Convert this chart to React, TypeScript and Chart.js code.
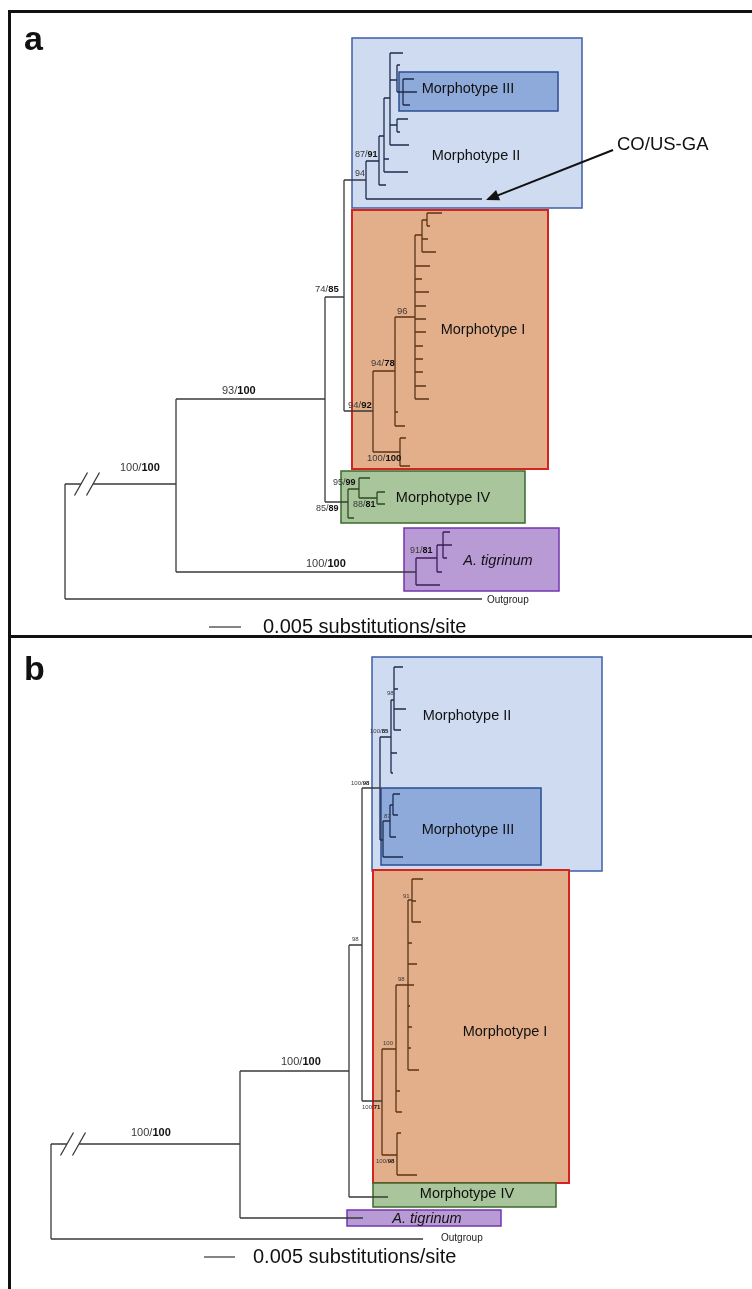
import { useEffect, useRef } from "react";
import { Chart, registerables } from "chart.js";

Chart.register(...registerables);

const PAGE_W = 752;
const PAGE_H = 1289;
const FONT = '"Liberation Sans", Arial, Helvetica, sans-serif';

// Tree nodes: [id, parent, depth, row, clade]
type TNode = [string, string | null, number, number, string];

// ---------------- Panel a ----------------
const A_BACKBONE: TNode[] = [
  ["root", null, 65, 540, "k"],
  ["A1", "root", 176, 484, "k"],
  ["out", "root", 482, 599, "k"],
  ["X", "A1", 325, 399, "k"],
  ["Y", "X", 344, 297, "k"],
];
const A_MORPH_II: TNode[] = [
  ["Z", "Y", 366, 180, "b"],
  ["CO", "Z", 482, 199, "b"],
  ["W", "Z", 379, 161, "b"],
  ["W1", "W", 386, 185, "b"],
  ["V", "W", 384, 136, "b"],
  ["V1", "V", 389, 159, "b"],
  ["V2", "V", 408, 172, "b"],
  ["U", "V", 390, 98, "b"],
  ["U1", "U", 403, 53, "b"],
  ["T", "U", 397, 80, "b"],
  ["T1", "T", 400, 65, "b"],
  ["R3", "T", 403, 92, "b"],
  ["R31", "R3", 414, 79, "b"],
  ["R32", "R3", 417, 92, "b"],
  ["R33", "R3", 410, 105, "b"],
  ["S", "U", 397, 125, "b"],
  ["S1", "S", 408, 119, "b"],
  ["S2", "S", 400, 132, "b"],
  ["U2", "U", 409, 145, "b"],
];
const A_MORPH_I: TNode[] = [
  ["I0", "Y", 373, 411, "o"],
  ["I78", "I0", 395, 371, "o"],
  ["I100", "I0", 400, 452, "o"],
  ["I100a", "I100", 406, 438, "o"],
  ["I100b", "I100", 410, 466, "o"],
  ["I78a", "I78", 398, 412, "o"],
  ["I78b", "I78", 405, 426, "o"],
  ["P", "I78", 415, 317, "o"],
  ["Q", "P", 422, 235, "o"],
  ["O", "Q", 427, 220, "o"],
  ["O1", "O", 442, 213, "o"],
  ["O2", "O", 430, 226, "o"],
  ["Q1", "Q", 428, 239, "o"],
  ["Q2", "Q", 436, 252, "o"],
  ["P1", "P", 430, 266, "o"],
  ["P2", "P", 422, 279, "o"],
  ["P3", "P", 429, 292, "o"],
  ["P4", "P", 426, 306, "o"],
  ["P5", "P", 426, 319, "o"],
  ["P6", "P", 426, 332, "o"],
  ["P7", "P", 423, 346, "o"],
  ["P8", "P", 423, 359, "o"],
  ["P9", "P", 423, 372, "o"],
  ["P10", "P", 426, 386, "o"],
  ["P11", "P", 429, 399, "o"],
];
const A_MORPH_IV: TNode[] = [
  ["IV", "X", 348, 502, "g"],
  ["IV95", "IV", 359, 489, "g"],
  ["IVt", "IV", 354, 518, "g"],
  ["IV95a", "IV95", 370, 478, "g"],
  ["IV88", "IV95", 377, 498, "g"],
  ["IV88a", "IV88", 385, 492, "g"],
  ["IV88b", "IV88", 385, 504, "g"],
];
const A_TIGRINUM: TNode[] = [
  ["TG", "A1", 416, 572, "p"],
  ["TGB", "TG", 437, 558, "p"],
  ["TGt", "TG", 440, 585, "p"],
  ["TGC", "TGB", 443, 545, "p"],
  ["TGBt", "TGB", 442, 572, "p"],
  ["TGC1", "TGC", 450, 532, "p"],
  ["TGC2", "TGC", 452, 545, "p"],
  ["TGC3", "TGC", 447, 558, "p"],
];
const A_BREAK: [string, number, number] = ["A1", 81, 93];

// ---------------- Panel b ----------------
const B_BACKBONE: TNode[] = [
  ["root", null, 51, 1190, "k"],
  ["B1", "root", 240, 1144, "k"],
  ["out", "root", 423, 1239, "k"],
  ["B2", "B1", 349, 1071, "k"],
  ["TIG", "B1", 363, 1218, "p"],
  ["IV", "B2", 388, 1197, "g"],
  ["B3", "B2", 362, 945, "k"],
];
const B_MORPH_II_III: TNode[] = [
  ["N", "B3", 380, 788, "b"],
  ["M", "N", 391, 737, "b"],
  ["L", "M", 394, 700, "b"],
  ["L1", "L", 403, 667, "b"],
  ["L2", "L", 398, 689, "b"],
  ["L3", "L", 406, 709, "b"],
  ["L4", "L", 401, 730, "b"],
  ["M1", "M", 397, 753, "b"],
  ["M2", "M", 393, 773, "b"],
  ["J", "N", 383, 840, "b"],
  ["J87", "J", 390, 821, "b"],
  ["Jt", "J", 403, 857, "b"],
  ["NI", "J87", 393, 805, "b"],
  ["NI1", "NI", 400, 794, "b"],
  ["NI2", "NI", 398, 815, "b"],
  ["J87t", "J87", 396, 837, "b"],
];
const B_MORPH_I: TNode[] = [
  ["MI", "B3", 382, 1101, "o"],
  ["C100", "MI", 396, 1049, "o"],
  ["C98b", "MI", 397, 1155, "o"],
  ["C98b1", "C98b", 401, 1133, "o"],
  ["C98b2", "C98b", 417, 1175, "o"],
  ["C100t1", "C100", 400, 1091, "o"],
  ["C100t2", "C100", 402, 1112, "o"],
  ["C98", "C100", 408, 985, "o"],
  ["C91", "C98", 412, 900, "o"],
  ["C91a", "C91", 423, 879, "o"],
  ["C91b", "C91", 416, 901, "o"],
  ["C91c", "C91", 421, 922, "o"],
  ["C98t1", "C98", 412, 943, "o"],
  ["C98t2", "C98", 417, 964, "o"],
  ["C98t3", "C98", 414, 985, "o"],
  ["C98t4", "C98", 410, 1006, "o"],
  ["C98t5", "C98", 412, 1027, "o"],
  ["C98t6", "C98", 411, 1048, "o"],
  ["C98t7", "C98", 419, 1070, "o"],
];
const B_BREAK: [string, number, number] = ["B1", 67, 79];

// Support labels: [text, left, row, size]
type Lbl = [string, number, number, number];
const A_SUPPORT: Lbl[] = [
  ["100/100", 120, 468, 11],
  ["93/100", 222, 391, 11],
  ["100/100", 306, 564, 11],
  ["74/85", 315, 289, 9.5],
  ["94/92", 348, 405, 9.5],
  ["94/78", 371, 363, 9.5],
  ["96", 397, 311, 9.5],
  ["100/100", 367, 458, 9.5],
  ["87/91", 355, 155, 9],
  ["94", 355, 174, 9],
  ["95/99", 333, 483, 9],
  ["88/81", 353, 505, 9],
  ["85/89", 316, 509, 9],
  ["91/81", 410, 551, 9],
];
const B_SUPPORT: Lbl[] = [
  ["100/100", 131, 1133, 11],
  ["100/100", 281, 1062, 11],
  ["98", 352, 939, 6],
  ["100/98", 351, 783, 6],
  ["100/85", 370, 731, 6],
  ["98", 387, 693, 6],
  ["87", 384, 816, 6],
  ["91", 403, 896, 6],
  ["98", 398, 979, 6],
  ["100", 383, 1043, 6],
  ["100/71", 362, 1107, 6],
  ["100/98", 376, 1161, 6],
];

// Clade boxes: [clade, x0, y0, x1, y1]
type Box = [string, number, number, number, number];
const A_BOXES: Box[] = [
  ["II", 352, 38, 582, 208],
  ["III", 399, 72, 558, 111],
  ["I", 352, 210, 548, 469],
  ["IV", 341, 471, 525, 523],
  ["tig", 404, 528, 559, 591],
];
const B_BOXES: Box[] = [
  ["II", 372, 657, 602, 871],
  ["III", 381, 788, 541, 865],
  ["I", 373, 870, 569, 1183],
  ["IV", 373, 1183, 556, 1207],
  ["tig", 347, 1210, 501, 1226],
];

// Clade titles: [text, centerX, row]
type Title = [string, number, number];
const A_TITLES: Title[] = [
  ["Morphotype III", 468, 89],
  ["Morphotype II", 476, 156],
  ["Morphotype I", 483, 330],
  ["Morphotype IV", 443, 498],
  ["A. tigrinum", 498, 561],
];
const B_TITLES: Title[] = [
  ["Morphotype II", 467, 716],
  ["Morphotype III", 468, 830],
  ["Morphotype I", 505, 1032],
  ["Morphotype IV", 467, 1194],
  ["A. tigrinum", 427, 1219],
];

// Scale bars: [x0, x1, row, textLeft]
const A_SCALE: [number, number, number, number] = [209, 241, 627, 263];
const B_SCALE: [number, number, number, number] = [204, 235, 1257, 253];
const SCALE_TEXT = "0.005 substitutions/site";
const A_OUTGROUP: [number, number] = [487, 600];
const B_OUTGROUP: [number, number] = [441, 1238];
const ARROW_FROM: [number, number] = [613, 150];
const ARROW_TO: [number, number] = [486, 200];
const ARROW_TEXT: [string, number, number] = ["CO/US-GA", 617, 145];
const PANEL_LETTERS: [string, number, number][] = [
  ["a", 24, 50],
  ["b", 24, 680],
];
const FRAME_TOP = 11.5;
const FRAME_DIV = 636.5;
const FRAME_LEFT = 9.5;

// ---------- styles ----------
const LINE_COLOR: Record<string, string> = {
  k: "#3a3a3a",
  b: "#1f2d4e",
  o: "#5b3516",
  g: "#2e4a23",
  p: "#3a1e5a",
};
const BOX_STYLE: Record<string, { fill: string; stroke: string; w: number }> = {
  II: { fill: "#cedbf0", stroke: "#3d5fa8", w: 1.5 },
  III: { fill: "#8eaadb", stroke: "#2c4d92", w: 1.5 },
  I: { fill: "#e3af8b", stroke: "#d5231f", w: 2 },
  IV: { fill: "#a9c59b", stroke: "#3b6a2c", w: 1.5 },
  tig: { fill: "#b89ad4", stroke: "#7434b0", w: 1.5 },
};

type Pt = { x: number; y: number | null };

function treeSegments(nodes: TNode[], brk: [string, number, number]) {
  const byId = new Map(nodes.map((n) => [n[0], n] as [string, TNode]));
  const kids = new Map<string, TNode[]>();
  for (const n of nodes) {
    if (n[1]) {
      if (!kids.has(n[1])) kids.set(n[1], []);
      kids.get(n[1])!.push(n);
    }
  }
  const out: Record<string, Pt[]> = {};
  const seg = (c: string, x1: number, y1: number, x2: number, y2: number) => {
    if (!out[c]) out[c] = [];
    out[c].push({ x: x1, y: y1 }, { x: x2, y: y2 }, { x: x2, y: null });
  };
  for (const n of nodes) {
    const ch = kids.get(n[0]);
    if (ch) {
      const ys = ch.map((c) => c[3]);
      seg(n[4], n[2], Math.min(...ys), n[2], Math.max(...ys));
    }
    if (n[1]) {
      const p = byId.get(n[1])!;
      if (brk[0] === n[0]) {
        seg(p[4], p[2], n[3], brk[1], n[3]);
        seg(p[4], brk[2], n[3], n[2], n[3]);
        for (const g of [brk[1], brk[2]]) seg("k", g - 6.5, n[3] + 11.5, g + 6.5, n[3] - 11.5);
      } else {
        seg(p[4], p[2], n[3], n[2], n[3]);
      }
    }
  }
  return out;
}

export default function App() {
  const ref = useRef<HTMLCanvasElement | null>(null);

  useEffect(() => {
    document.body.style.margin = "0";
    const canvas = ref.current;
    if (!canvas) return;

    const datasets: any[] = [];
    const addLine = (data: Pt[], color: string, width: number) =>
      datasets.push({
        data,
        showLine: true,
        borderColor: color,
        borderWidth: width,
        pointRadius: 0,
        pointHoverRadius: 0,
        fill: false,
        spanGaps: false,
        tension: 0,
      });

    const treeA = treeSegments([...A_BACKBONE, ...A_MORPH_II, ...A_MORPH_I, ...A_MORPH_IV, ...A_TIGRINUM], A_BREAK);
    const treeB = treeSegments([...B_BACKBONE, ...B_MORPH_II_III, ...B_MORPH_I], B_BREAK);
    for (const t of [treeA, treeB]) for (const c of Object.keys(t)) addLine(t[c], LINE_COLOR[c], 1.3);

    // scale bars
    for (const s of [A_SCALE, B_SCALE]) addLine([{ x: s[0], y: s[2] }, { x: s[1], y: s[2] }], "#333", 1.2);

    // arrow shaft
    const dx = ARROW_TO[0] - ARROW_FROM[0];
    const dy = ARROW_TO[1] - ARROW_FROM[1];
    const len = Math.hypot(dx, dy);
    const ux = dx / len, uy = dy / len;
    addLine(
      [
        { x: ARROW_FROM[0], y: ARROW_FROM[1] },
        { x: ARROW_TO[0] - ux * 10, y: ARROW_TO[1] - uy * 10 },
      ],
      "#111",
      2
    );

    // panel frames
    addLine(
      [
        { x: PAGE_W, y: FRAME_TOP },
        { x: FRAME_LEFT, y: FRAME_TOP },
        { x: FRAME_LEFT, y: PAGE_H },
        { x: FRAME_LEFT, y: null },
        { x: FRAME_LEFT, y: FRAME_DIV },
        { x: PAGE_W, y: FRAME_DIV },
      ],
      "#111",
      3
    );

    const boxPlugin = {
      id: "boxes",
      beforeDatasetsDraw(chart: any) {
        const { ctx } = chart;
        const xs = chart.scales.x, ys = chart.scales.y;
        ctx.save();
        for (const b of [...A_BOXES, ...B_BOXES]) {
          const st = BOX_STYLE[b[0]];
          const x0 = xs.getPixelForValue(b[1]);
          const y0 = ys.getPixelForValue(b[2]);
          const x1 = xs.getPixelForValue(b[3]);
          const y1 = ys.getPixelForValue(b[4]);
          ctx.fillStyle = st.fill;
          ctx.fillRect(x0, y0, x1 - x0, y1 - y0);
          ctx.strokeStyle = st.stroke;
          ctx.lineWidth = st.w;
          ctx.strokeRect(x0, y0, x1 - x0, y1 - y0);
        }
        ctx.restore();
      },
    };

    const textPlugin = {
      id: "texts",
      afterDatasetsDraw(chart: any) {
        const { ctx } = chart;
        const xs = chart.scales.x, ys = chart.scales.y;
        const X = (v: number) => xs.getPixelForValue(v);
        const Y = (v: number) => ys.getPixelForValue(v);
        ctx.save();
        ctx.textBaseline = "middle";
        ctx.textAlign = "left";
        // support values
        for (const l of [...A_SUPPORT, ...B_SUPPORT]) {
          const [t, x, y, size] = l;
          const parts = t.split("/");
          const first = parts.length > 1 ? parts[0] + "/" : parts[0];
          ctx.font = `${size}px ${FONT}`;
          ctx.fillStyle = "#3a3a3a";
          ctx.fillText(first, X(x), Y(y));
          if (parts.length > 1) {
            const w = ctx.measureText(first).width;
            ctx.font = `bold ${size}px ${FONT}`;
            ctx.fillStyle = "#111";
            ctx.fillText(parts[1], X(x) + w, Y(y));
          }
        }
        // clade titles
        ctx.textAlign = "center";
        ctx.fillStyle = "#111";
        for (const t of [...A_TITLES, ...B_TITLES]) {
          const italic = t[0].startsWith("A. ");
          ctx.font = `${italic ? "italic " : ""}14.5px ${FONT}`;
          ctx.fillText(t[0], X(t[1]), Y(t[2]));
        }
        // scale bar text
        ctx.textAlign = "left";
        ctx.font = `20px ${FONT}`;
        for (const s of [A_SCALE, B_SCALE]) ctx.fillText(SCALE_TEXT, X(s[3]), Y(s[2]));
        // outgroup
        ctx.font = `10px ${FONT}`;
        ctx.fillStyle = "#222";
        for (const o of [A_OUTGROUP, B_OUTGROUP]) ctx.fillText("Outgroup", X(o[0]), Y(o[1]));
        // arrow label
        ctx.font = `18.5px ${FONT}`;
        ctx.fillStyle = "#111";
        ctx.fillText(ARROW_TEXT[0], X(ARROW_TEXT[1]), Y(ARROW_TEXT[2]));
        // arrowhead
        const tx = X(ARROW_TO[0]), ty = Y(ARROW_TO[1]);
        const fx = X(ARROW_FROM[0]), fy = Y(ARROW_FROM[1]);
        const L = Math.hypot(tx - fx, ty - fy);
        const ex = (tx - fx) / L, ey = (ty - fy) / L;
        const bx = tx - ex * 13, by = ty - ey * 13;
        ctx.beginPath();
        ctx.moveTo(tx, ty);
        ctx.lineTo(bx - ey * 5.5, by + ex * 5.5);
        ctx.lineTo(bx + ey * 5.5, by - ex * 5.5);
        ctx.closePath();
        ctx.fill();
        // panel letters
        ctx.textBaseline = "alphabetic";
        ctx.font = `bold 34px ${FONT}`;
        for (const p of PANEL_LETTERS) ctx.fillText(p[0], X(p[1]), Y(p[2]));
        ctx.restore();
      },
    };

    const chart = new Chart(canvas, {
      type: "scatter",
      data: { datasets },
      options: {
        animation: false,
        responsive: false,
        devicePixelRatio: 1,
        events: [],
        layout: { padding: 0 },
        plugins: { legend: { display: false }, tooltip: { enabled: false } },
        scales: {
          x: { type: "linear", min: 0, max: PAGE_W, display: false },
          y: { type: "linear", min: 0, max: PAGE_H, reverse: true, display: false },
        },
      },
      plugins: [boxPlugin, textPlugin],
    } as any);

    return () => chart.destroy();
  }, []);

  return (
    <div style={{ position: "absolute", left: 0, top: 0, width: PAGE_W, height: PAGE_H, background: "#fff" }}>
      <canvas ref={ref} width={PAGE_W} height={PAGE_H} style={{ display: "block" }} />
    </div>
  );
}
